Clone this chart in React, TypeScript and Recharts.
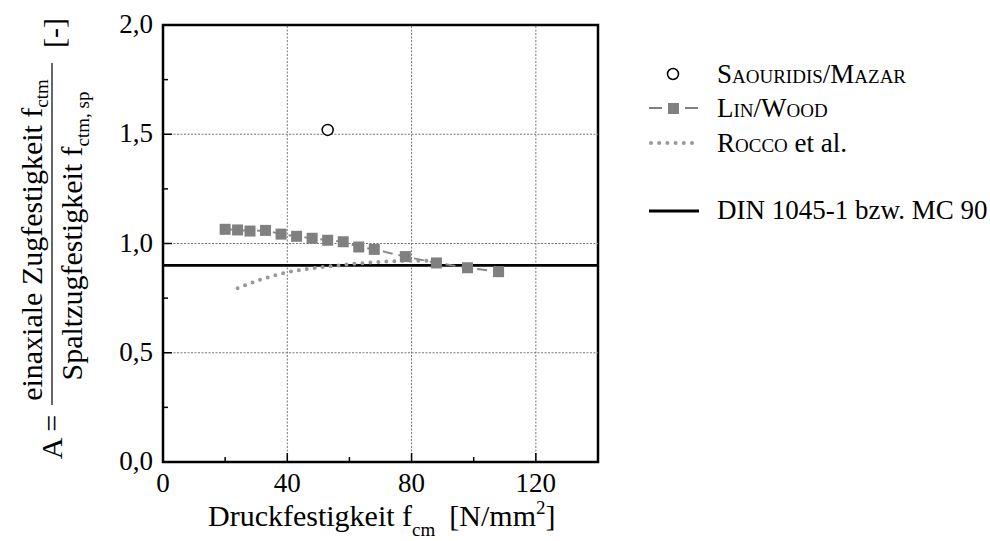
import { ComposedChart, Line, Scatter, XAxis, YAxis, ReferenceLine, ReferenceArea, Customized } from 'recharts'

// Druckfestigkeit f_cm [N/mm²] vs. A = f_ctm / f_ctm,sp
const linWoodX = [20, 24, 28, 33, 38, 43, 48, 53, 58, 63, 68, 78, 88, 98, 108]
const linWoodA = [1.065, 1.062, 1.057, 1.06, 1.043, 1.033, 1.024, 1.015, 1.008, 0.984, 0.973, 0.94, 0.911, 0.889, 0.871]

const roccoX = [24, 30, 35, 40, 45, 50, 55, 60, 65, 70, 75, 80, 85]
const roccoA = [0.795, 0.828, 0.85, 0.868, 0.881, 0.89, 0.897, 0.905, 0.911, 0.916, 0.919, 0.921, 0.921]

const saouridisX = [53]
const saouridisA = [1.52]

const dinX = [0, 140]
const dinA = [0.9, 0.9]

const xTicks = [0, 20, 40, 60, 80, 100, 120, 140]
const yTicks = [0, 0.25, 0.5, 0.75, 1, 1.25, 1.5, 1.75, 2]
const xGrid = [40, 80, 120]
const yGrid = [0.5, 1, 1.5]

const FONT = '"Liberation Serif", "Times New Roman", serif'

const zip = (xs: number[], ys: number[]) => xs.map((x, i) => ({ x, a: ys[i] }))

const linWoodData = zip(linWoodX, linWoodA)
const roccoData = zip(roccoX, roccoA)
const saouridisData = zip(saouridisX, saouridisA)
const dinData = zip(dinX, dinA)

const XTick = (props: any) => {
  const { x, y, payload } = props
  const v = payload.value
  const major = v % 40 === 0
  return (
    <g>
      <line x1={x} x2={x} y1={y} y2={y - (major ? 9 : 5)} stroke="#000" strokeWidth={1.5} />
      {major && v < 140 && (
        <text x={x} y={y + 30} textAnchor="middle" fontFamily={FONT} fontSize={27} fill="#000">
          {v}
        </text>
      )}
    </g>
  )
}

const YTick = (props: any) => {
  const { x, y, payload } = props
  const v = payload.value
  const major = Math.round(v * 100) % 50 === 0
  return (
    <g>
      <line x1={x} x2={x + (major ? 9 : 5)} y1={y} y2={y} stroke="#000" strokeWidth={1.5} />
      {major && (
        <text x={x - 10} y={y + 8} textAnchor="end" fontFamily={FONT} fontSize={27} fill="#000">
          {v.toFixed(1).replace('.', ',')}
        </text>
      )}
    </g>
  )
}

const SquareDot = (props: any) => {
  const { cx, cy } = props
  if (cx == null || cy == null) return null
  return <rect x={cx - 5.5} y={cy - 5.5} width={11} height={11} fill="#808080" />
}

const Labels = () => (
  <g fontFamily={FONT} fill="#000">
    {/* y axis title */}
    <text transform="translate(62,437) rotate(-90)" textAnchor="middle" fontSize={30}>A =</text>
    <text transform="translate(42,240) rotate(-90)" textAnchor="middle" fontSize={30}>
      einaxiale Zugfestigkeit f<tspan fontSize={19} dy={6}>ctm</tspan>
    </text>
    <line x1={52} x2={52} y1={63} y2={405} stroke="#000" strokeWidth={1.2} />
    <text transform="translate(82,236) rotate(-90)" textAnchor="middle" fontSize={30}>
      Spaltzugfestigkeit f<tspan fontSize={19} dy={7}>ctm, sp</tspan>
    </text>
    <text transform="translate(64,33) rotate(-90)" textAnchor="middle" fontSize={30}>[-]</text>

    {/* x axis title */}
    <text x={208} y={526} fontSize={30}>
      Druckfestigkeit f<tspan fontSize={19} dy={10}>cm</tspan>
      <tspan dx={14} dy={-10}>[N/mm</tspan>
      <tspan fontSize={19} dy={-12}>2</tspan>
      <tspan dy={12}>]</tspan>
    </text>

    {/* legend */}
    <circle cx={673} cy={74} r={5.5} fill="#fff" stroke="#000" strokeWidth={1.5} />
    <text x={717} y={83} fontSize={27} style={{ fontVariant: 'small-caps' }}>Saouridis/Mazar</text>

    <line x1={649} x2={662} y1={108} y2={108} stroke="#808080" strokeWidth={2} />
    <line x1={685} x2={698} y1={108} y2={108} stroke="#808080" strokeWidth={2} />
    <rect x={668} y={103} width={11} height={11} fill="#808080" />
    <text x={717} y={117} fontSize={27} style={{ fontVariant: 'small-caps' }}>Lin/Wood</text>

    <line x1={651} x2={692} y1={143} y2={143} stroke="#999" strokeWidth={4} strokeDasharray="0 8.2" strokeLinecap="round" />
    <text x={717} y={152} fontSize={27}>
      <tspan style={{ fontVariant: 'small-caps' }}>Rocco</tspan> et al.
    </text>

    <line x1={649} x2={699} y1={211} y2={211} stroke="#000" strokeWidth={3} />
    <text x={717} y={219} fontSize={27}>DIN 1045-1 bzw. MC 90</text>
  </g>
)

export default function App() {
  return (
    <div style={{ position: 'absolute', left: 0, top: 0, background: '#fff' }}>
      <ComposedChart width={990} height={541} margin={{ top: 25, right: 392, bottom: 69, left: 153 }}>
        <XAxis
          type="number"
          dataKey="x"
          domain={[0, 140]}
          ticks={xTicks}
          allowDataOverflow
          height={10}
          tickSize={0}
          tickMargin={0}
          tickLine={false}
          axisLine={false}
          tick={<XTick />}
          interval={0}
        />
        <YAxis
          type="number"
          dataKey="a"
          domain={[0, 2]}
          ticks={yTicks}
          allowDataOverflow
          width={10}
          tickSize={0}
          tickMargin={0}
          tickLine={false}
          axisLine={false}
          tick={<YTick />}
          interval={0}
        />
        {xGrid.map((g) => (
          <ReferenceLine key={'x' + g} x={g} stroke="#777" strokeWidth={1} strokeDasharray="2 1.5" />
        ))}
        {yGrid.map((g) => (
          <ReferenceLine key={'y' + g} y={g} stroke="#777" strokeWidth={1} strokeDasharray="2 1.5" />
        ))}
        <Line
          data={dinData}
          dataKey="a"
          stroke="#000"
          strokeWidth={2.7}
          dot={false}
          isAnimationActive={false}
        />
        <Line
          data={roccoData}
          dataKey="a"
          type="monotone"
          stroke="#999"
          strokeWidth={4}
          strokeDasharray="0 8"
          strokeLinecap="round"
          dot={false}
          isAnimationActive={false}
        />
        <Line
          data={linWoodData}
          dataKey="a"
          stroke="#888"
          strokeWidth={2}
          strokeDasharray="10 6"
          dot={<SquareDot />}
          isAnimationActive={false}
        />
        <Scatter
          data={saouridisData}
          dataKey="a"
          isAnimationActive={false}
          shape={(p: any) => <circle cx={p.cx} cy={p.cy} r={5.5} fill="#fff" stroke="#000" strokeWidth={1.5} />}
        />
        <ReferenceArea x1={0} x2={140} y1={0} y2={2} fill="none" stroke="#000" strokeWidth={2.5} ifOverflow="visible" />
        <Customized component={Labels} />
      </ComposedChart>
    </div>
  )
}
